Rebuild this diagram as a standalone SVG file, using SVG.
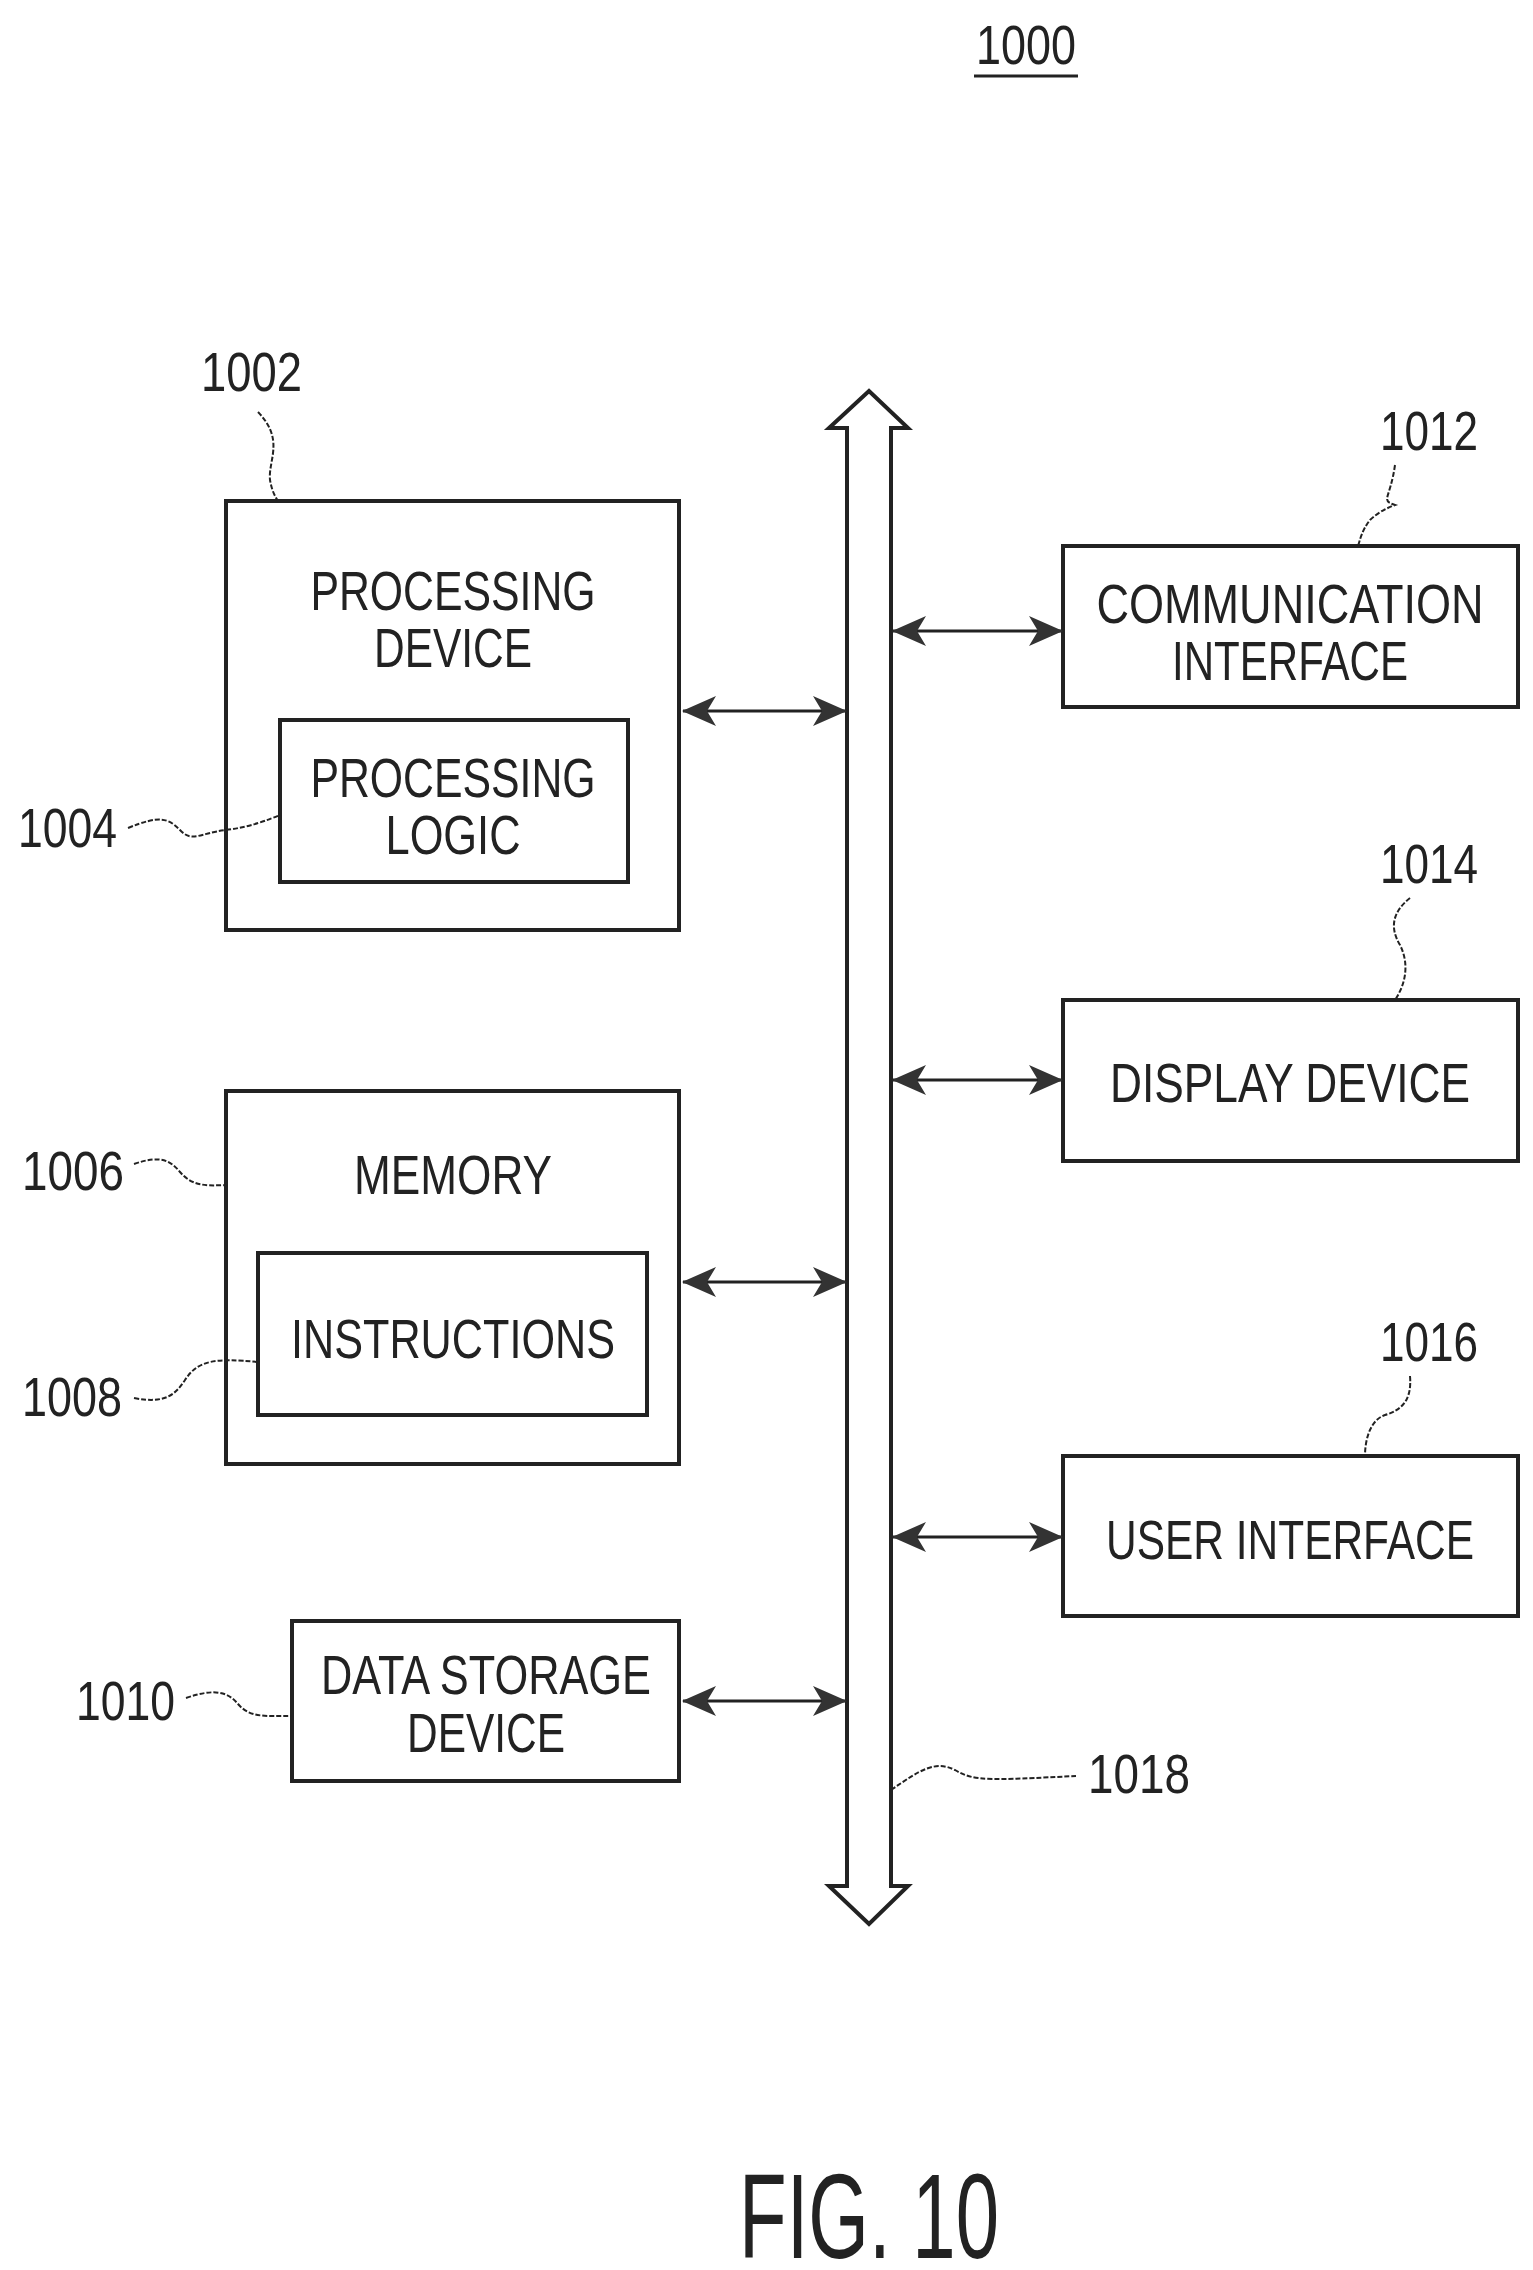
<svg xmlns="http://www.w3.org/2000/svg" width="1533" height="2270" viewBox="0 0 1533 2270">
<style>
.box{fill:#fff;stroke:#222;stroke-width:4}
.t{font-family:"Liberation Sans",Arial,sans-serif;font-size:55px;fill:#222;text-anchor:middle}
.n{font-family:"Liberation Sans",Arial,sans-serif;font-size:56px;fill:#222}
.ld{fill:none;stroke:#222;stroke-width:2;stroke-dasharray:5 2}
.c{stroke:#222;stroke-width:3;fill:none;marker-start:url(#a);marker-end:url(#a)}
</style>
<defs>
<marker id="a" viewBox="0 0 34 30" refX="33" refY="15" markerWidth="34" markerHeight="30" markerUnits="userSpaceOnUse" orient="auto-start-reverse">
<path d="M0,0 L34,15 L0,30 L9,15 Z" fill="#333"/>
</marker>
</defs>
<text class="n" x="976" y="64" textLength="100" lengthAdjust="spacingAndGlyphs">1000</text>
<line x1="974" y1="76" x2="1078" y2="76" stroke="#222" stroke-width="3"/>
<g id="n1002">
<rect class="box" x="226" y="501" width="453" height="429"/>
<text class="t" x="453" y="610" textLength="285" lengthAdjust="spacingAndGlyphs">PROCESSING</text>
<text class="t" x="453" y="667" textLength="158" lengthAdjust="spacingAndGlyphs">DEVICE</text>
<text class="n" x="201" y="391" textLength="101" lengthAdjust="spacingAndGlyphs">1002</text>
<path class="ld" d="M258,412 C285,440 268,460 270,480 C272,492 276,498 278,501"/>
</g>
<g id="n1004">
<rect class="box" x="280" y="720" width="348" height="162"/>
<text class="t" x="453" y="797" textLength="285" lengthAdjust="spacingAndGlyphs">PROCESSING</text>
<text class="t" x="453" y="854" textLength="135" lengthAdjust="spacingAndGlyphs">LOGIC</text>
<text class="n" x="18" y="847" textLength="99" lengthAdjust="spacingAndGlyphs">1004</text>
<path class="ld" d="M128,828 C160,815 168,818 180,830 C192,843 200,833 226,830 C250,827 268,820 280,815"/>
</g>
<g id="n1006">
<rect class="box" x="226" y="1091" width="453" height="373"/>
<text class="t" x="453" y="1194" textLength="198" lengthAdjust="spacingAndGlyphs">MEMORY</text>
<text class="n" x="22" y="1190" textLength="102" lengthAdjust="spacingAndGlyphs">1006</text>
<path class="ld" d="M134,1164 C160,1155 170,1160 180,1172 C192,1186 205,1186 226,1185"/>
</g>
<g id="n1008">
<rect class="box" x="258" y="1253" width="389" height="162"/>
<text class="t" x="453" y="1358" textLength="324" lengthAdjust="spacingAndGlyphs">INSTRUCTIONS</text>
<text class="n" x="22" y="1416" textLength="100" lengthAdjust="spacingAndGlyphs">1008</text>
<path class="ld" d="M134,1398 C165,1404 175,1395 185,1380 C198,1360 215,1358 258,1362"/>
</g>
<g id="n1010">
<rect class="box" x="292" y="1621" width="387" height="160"/>
<text class="t" x="486" y="1694" textLength="330" lengthAdjust="spacingAndGlyphs">DATA STORAGE</text>
<text class="t" x="486" y="1752" textLength="158" lengthAdjust="spacingAndGlyphs">DEVICE</text>
<text class="n" x="76" y="1720" textLength="99" lengthAdjust="spacingAndGlyphs">1010</text>
<path class="ld" d="M186,1698 C215,1688 228,1692 238,1704 C250,1718 265,1716 292,1716"/>
</g>
<g id="n1012">
<rect class="box" x="1063" y="546" width="455" height="161"/>
<text class="t" x="1290" y="623" textLength="387" lengthAdjust="spacingAndGlyphs">COMMUNICATION</text>
<text class="t" x="1290" y="680" textLength="236" lengthAdjust="spacingAndGlyphs">INTERFACE</text>
<text class="n" x="1380" y="450" textLength="98" lengthAdjust="spacingAndGlyphs">1012</text>
<path class="ld" d="M1395,465 C1390,500 1380,500 1395,505 C1395,505 1380,510 1370,520 C1362,530 1360,540 1358,546"/>
</g>
<g id="n1014">
<rect class="box" x="1063" y="1000" width="455" height="161"/>
<text class="t" x="1290" y="1102" textLength="360" lengthAdjust="spacingAndGlyphs">DISPLAY DEVICE</text>
<text class="n" x="1380" y="883" textLength="98" lengthAdjust="spacingAndGlyphs">1014</text>
<path class="ld" d="M1410,898 C1395,910 1388,925 1400,945 C1410,965 1405,985 1395,1000"/>
</g>
<g id="n1016">
<rect class="box" x="1063" y="1456" width="455" height="160"/>
<text class="t" x="1290" y="1559" textLength="368" lengthAdjust="spacingAndGlyphs">USER INTERFACE</text>
<text class="n" x="1380" y="1361" textLength="98" lengthAdjust="spacingAndGlyphs">1016</text>
<path class="ld" d="M1410,1376 C1412,1400 1402,1410 1385,1415 C1370,1420 1365,1440 1365,1456"/>
</g>
<g id="n1018">
<path d="M847,428 L829,428 L869,391 L908,428 L891,428 L891,1886 L908,1886 L869,1924 L829,1886 L847,1886 Z" fill="#fff" stroke="#222" stroke-width="4"/>
<text class="n" x="1088" y="1793" textLength="102" lengthAdjust="spacingAndGlyphs">1018</text>
<path class="ld" d="M891,1790 C920,1770 935,1760 955,1770 C975,1782 990,1780 1076,1776"/>
</g>
<g id="connectors">
<line class="c" x1="683" y1="711" x2="846" y2="711"/>
<line class="c" x1="683" y1="1282" x2="846" y2="1282"/>
<line class="c" x1="683" y1="1701" x2="846" y2="1701"/>
<line class="c" x1="893" y1="631" x2="1062" y2="631"/>
<line class="c" x1="893" y1="1080" x2="1062" y2="1080"/>
<line class="c" x1="893" y1="1537" x2="1062" y2="1537"/>
</g>
<text class="t" x="869" y="2258" style="font-size:120px" textLength="260" lengthAdjust="spacingAndGlyphs">FIG. 10</text>
</svg>
